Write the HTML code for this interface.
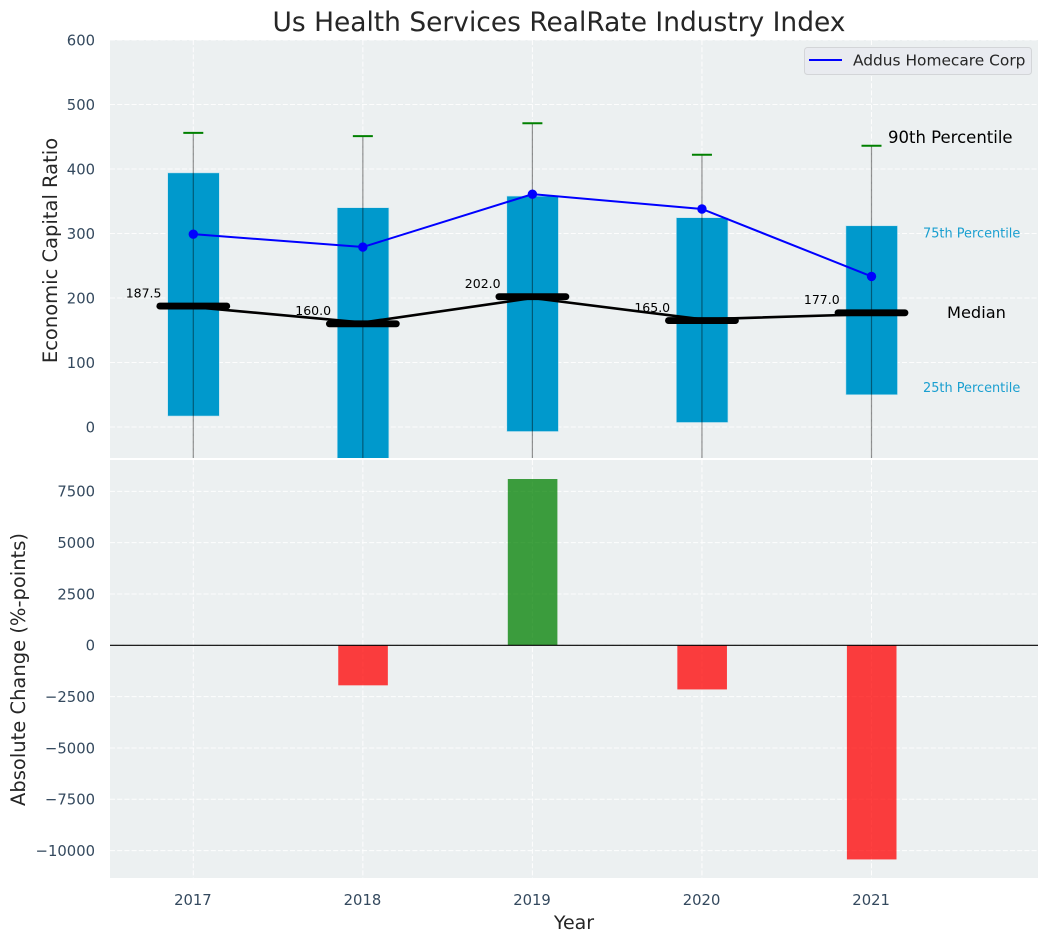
<!DOCTYPE html>
<html lang="en">
<head>
<meta charset="utf-8">
<title>Us Health Services RealRate Industry Index</title>
<style>
html,body{margin:0;padding:0;background:#fff;width:1048px;height:942px;overflow:hidden}
svg{display:block;font-family:"DejaVu Sans","Liberation Sans",sans-serif}
</style>
</head>
<body>
<svg id="chart" xmlns="http://www.w3.org/2000/svg" width="1048" height="942" viewBox="0 0 1048 942">
  <defs>
    <clipPath id="clip-top"><rect x="110" y="40" width="928" height="418"/></clipPath>
    <clipPath id="clip-bottom"><rect x="110" y="460" width="928" height="418"/></clipPath>
  </defs>
  <rect width="1048" height="942" fill="#ffffff"/>
  <text x="559" y="31" text-anchor="middle" font-size="26.46" fill="#262626">Us Health Services RealRate Industry Index</text>
  <rect x="110" y="40" width="928" height="418" fill="#ecf0f1"/>
  <rect x="110" y="460" width="928" height="418" fill="#ecf0f1"/>
  <g id="grid"></g>
  <g id="top-marks" clip-path="url(#clip-top)"></g>
  <g id="bottom-marks" clip-path="url(#clip-bottom)"></g>
  <g id="labels"></g>
  <text transform="translate(57,250.5) rotate(-90)" text-anchor="middle" font-size="19.5" fill="#262626">Economic Capital Ratio</text>
  <text transform="translate(25,669.5) rotate(-90)" text-anchor="middle" font-size="19.5" fill="#262626">Absolute Change (%-points)</text>
  <text x="574" y="929" text-anchor="middle" font-size="19" fill="#262626">Year</text>
  <g>
    <rect x="804.5" y="47.5" width="227" height="27" rx="3" fill="#e9ebf0" stroke="#d3d5d8" stroke-width="1"/>
    <line x1="809" y1="60" x2="842" y2="60" stroke="#0000ff" stroke-width="2"/>
    <text x="853" y="65.5" font-size="15.4" fill="#262626">Addus Homecare Corp</text>
  </g>
</svg>
<script>
const categories = [2017, 2018, 2019, 2020, 2021];
const p90Values = [456, 451, 471, 422, 436];
const p75Values = [394, 340, 358, 324.5, 312];
const medianValues = [187.5, 160, 202, 165, 177];
const medianTrendValues = [186, 162, 200, 167, 175];
const p25Values = [17, -60, -7, 7, 50];
const p10Values = [-120, -150, -130, -110, -90];
const companyValues = [299, 279, 361, 338, 233.5];
const changeValues = [0, -1950, 8100, -2150, -10430];
const topTicks = [600, 500, 400, 300, 200, 100, 0];
const bottomTicks = [7500, 5000, 2500, 0, -2500, -5000, -7500, -10000];
const medianLabels = ['187.5', '160.0', '202.0', '165.0', '177.0'];

const NS = 'http://www.w3.org/2000/svg';
const xAt = v => 193.3 + (v - 2017) * 169.55;
const yTop = v => 427 - v * 0.645;
const yBottom = v => 645.3 - v * 0.02053;
const fmtTick = v => (v < 0 ? '\u2212' + Math.abs(v) : String(v));
const squeezed = (x, y, s) => 'translate(' + x + ',' + y + ') scale(' + s + ',1)';

function make(parent, tag, attrs, text) {
  const el = document.createElementNS(NS, tag);
  for (const k in attrs) el.setAttribute(k, attrs[k]);
  if (text !== undefined) el.textContent = text;
  parent.appendChild(el);
  return el;
}

const grid = document.getElementById('grid');
const topG = document.getElementById('top-marks');
const botG = document.getElementById('bottom-marks');
const labels = document.getElementById('labels');
const gridStyle = { stroke: '#ffffff', 'stroke-width': 1, 'stroke-dasharray': '5 2.2', opacity: 0.9 };

topTicks.forEach(t => {
  const y = yTop(t);
  const line = make(grid, 'line', Object.assign({ x1: 110, x2: 1038, y1: y, y2: y }, gridStyle));
  
  
  const label = make(labels, 'text', { transform: squeezed(95, y + 5.4, 0.96), 'text-anchor': 'end', 'font-size': 15.4, fill: '#34495e' }, fmtTick(t));
  
  
});

bottomTicks.forEach(t => {
  const y = yBottom(t);
  const line = make(grid, 'line', Object.assign({ x1: 110, x2: 1038, y1: y, y2: y }, gridStyle));
  
  
  const label = make(labels, 'text', { transform: squeezed(95, y + 5.4, 0.96), 'text-anchor': 'end', 'font-size': 15.4, fill: '#34495e' }, fmtTick(t));
  
  
});

categories.forEach(c => {
  const x = xAt(c);
  const a = make(grid, 'line', Object.assign({ x1: x, x2: x, y1: 40, y2: 458 }, gridStyle));
  
  
  const b = make(grid, 'line', Object.assign({ x1: x, x2: x, y1: 460, y2: 878 }, gridStyle));
  
  
  const label = make(labels, 'text', { transform: squeezed(x - 0.4, 905, 0.96), 'text-anchor': 'middle', 'font-size': 15.4, fill: '#34495e' }, String(c));
  
  
});

// Interquartile bars
categories.forEach((c, i) => {
  const x = xAt(c);
  const top = yTop(p75Values[i]);
  const bottom = yTop(p25Values[i]);
  const bar = make(topG, 'rect', { x: x - 25.6, y: top, width: 51.6, height: bottom - top, fill: '#0099cc', stroke: '#bfe3ef', 'stroke-width': 0.6 });
  
  
});

// Whiskers and 90th percentile caps
categories.forEach((c, i) => {
  const x = xAt(c);
  const whisker = make(topG, 'line', { x1: x, x2: x, y1: yTop(p90Values[i]), y2: yTop(p10Values[i]), stroke: '#000000', 'stroke-opacity': 0.42, 'stroke-width': 1.2 });
  
  
  const cap = make(topG, 'line', { x1: x - 10, x2: x + 10, y1: yTop(p90Values[i]), y2: yTop(p90Values[i]), stroke: '#008000', 'stroke-width': 2 });
  
  
});

// Median trend line and median dashes
const trendLine = make(topG, 'polyline', {
  points: categories.map((c, i) => xAt(c) + ',' + yTop(medianTrendValues[i])).join(' '),
  fill: 'none', stroke: '#000000', 'stroke-width': 2.6
});



categories.forEach((c, i) => {
  const x = xAt(c);
  const y = yTop(medianValues[i]);
  const dash = make(topG, 'line', { x1: x - 33.5, x2: x + 33.5, y1: y, y2: y, stroke: '#000000', 'stroke-width': 6.8, 'stroke-linecap': 'round' });
  
  
  const t = make(labels, 'text', { x: x - 31.8, y: y - 8.7, 'text-anchor': 'end', 'font-size': 12.5, fill: '#000000' }, medianLabels[i]);
  
  
});

// Company line
const companyLine = make(topG, 'polyline', {
  points: categories.map((c, i) => xAt(c) + ',' + yTop(companyValues[i])).join(' '),
  fill: 'none', stroke: '#0000ff', 'stroke-width': 2
});



categories.forEach((c, i) => {
  const dot = make(topG, 'circle', { cx: xAt(c), cy: yTop(companyValues[i]), r: 4.7, fill: '#0000ff' });
  
  
});

// Percentile annotations follow the last category
const lastIndex = categories.length - 1;
const p90Note = make(labels, 'text', { x: 888, y: yTop(p90Values[lastIndex]) - 3, 'font-size': 16.5, fill: '#000000' }, '90th Percentile');


const p75Note = make(labels, 'text', { x: 923, y: yTop(p75Values[lastIndex]) + 11.5, 'font-size': 12.9, fill: '#1a9fd0' }, '75th Percentile');


const medianNote = make(labels, 'text', { x: 947, y: yTop(medianValues[lastIndex]) + 5, 'font-size': 16.2, fill: '#000000' }, 'Median');


const p25Note = make(labels, 'text', { x: 923, y: yTop(p25Values[lastIndex]) - 3, 'font-size': 12.9, fill: '#1a9fd0' }, '25th Percentile');



// Bottom change bars
categories.forEach((c, i) => {
  const v = changeValues[i];
  const x = xAt(c);
  const y0 = yBottom(0);
  const y1 = yBottom(v);
  const bar = make(botG, 'rect', { x: x - 24.6, y: Math.min(y0, y1), width: 49.6, height: Math.abs(y1 - y0), fill: v >= 0 ? '#008000' : '#ff0000', 'fill-opacity': 0.75 });
  
  
});

const zeroLine = make(botG, 'line', { x1: 110, x2: 1038, y1: yBottom(0), y2: yBottom(0), stroke: '#000000', 'stroke-width': 1.1 });


</script>
</body>
</html>
